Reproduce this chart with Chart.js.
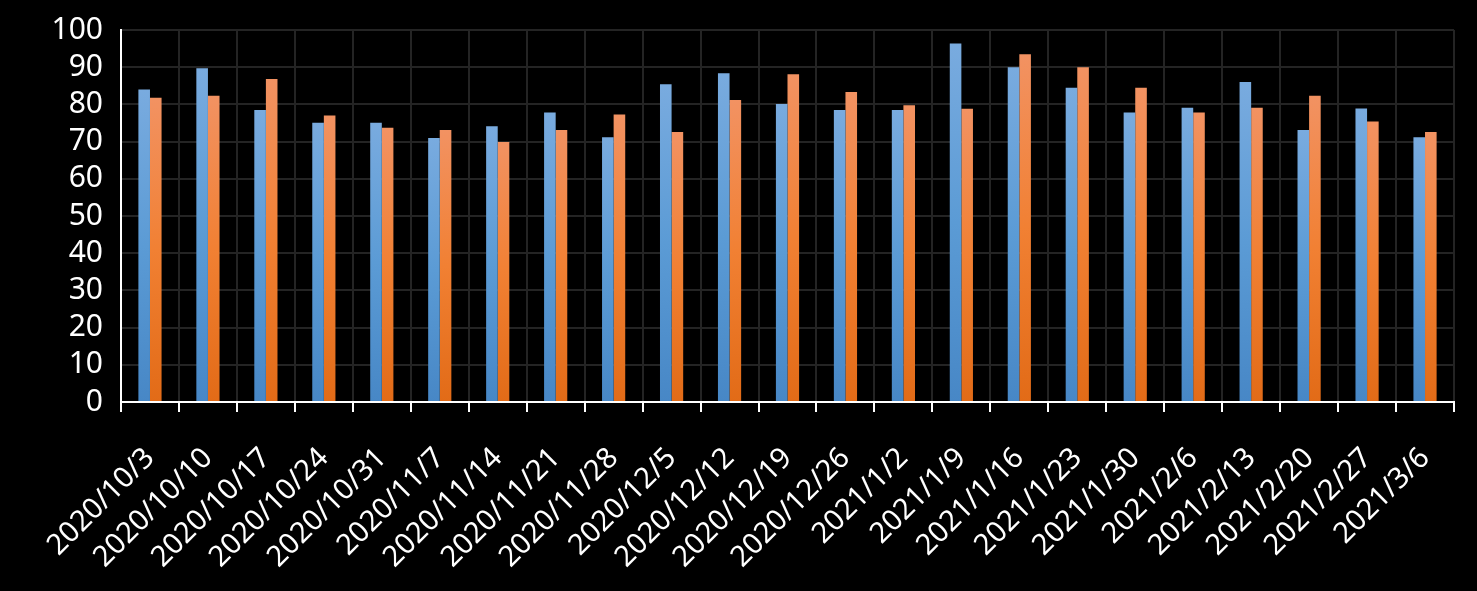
<!DOCTYPE html>
<html>
<head>
<meta charset="utf-8">
<script src="https://cdn.jsdelivr.net/npm/chart.js@4/dist/chart.umd.min.js"></script>
<style>
  html, body { margin: 0; padding: 0; background: #000; }
  #wrap { width: 1477px; height: 591px; }
</style>
</head>
<body>
<div id="wrap"><canvas id="chart" width="1477" height="591"></canvas></div>
<script>
const weeks = [
  '2020/10/3', '2020/10/10', '2020/10/17', '2020/10/24', '2020/10/31', '2020/11/7',
  '2020/11/14', '2020/11/21', '2020/11/28', '2020/12/5', '2020/12/12', '2020/12/19',
  '2020/12/26', '2021/1/2', '2021/1/9', '2021/1/16', '2021/1/23', '2021/1/30',
  '2021/2/6', '2021/2/13', '2021/2/20', '2021/2/27', '2021/3/6'
];
const blueValues = [
  84.0, 89.7, 78.5, 75.1, 75.1, 71.0, 74.1, 77.8, 71.2, 85.4, 88.4, 80.1,
  78.5, 78.5, 96.4, 90.0, 84.5, 77.8, 79.1, 86.0, 73.1, 78.9, 71.2
];
const orangeValues = [
  81.8, 82.3, 86.8, 77.0, 73.7, 73.1, 69.9, 73.1, 77.3, 72.6, 81.2, 88.1,
  83.3, 79.8, 78.8, 93.5, 90.0, 84.5, 77.8, 79.1, 82.3, 75.4, 72.6
];
const yTicks = [0, 10, 20, 30, 40, 50, 60, 70, 80, 90, 100];

// per-bar vertical gradient, light at the top, darker at the base
function barGradient(stops) {
  return (ctx) => {
    const chart = ctx.chart;
    if (!chart.chartArea || ctx.raw === undefined) return stops[1];
    const y = chart.scales.y;
    const top = y.getPixelForValue(ctx.raw);
    const bottom = y.getPixelForValue(0);
    const g = chart.ctx.createLinearGradient(0, top, 0, bottom);
    g.addColorStop(0, stops[0]);
    g.addColorStop(0.5, stops[1]);
    g.addColorStop(1, stops[2]);
    return g;
  };
}

const family = "'Noto Sans', 'DejaVu Sans', sans-serif";

new Chart(document.getElementById('chart'), {
  type: 'bar',
  data: {
    labels: weeks,
    datasets: [
      {
        label: 'A',
        data: blueValues,
        backgroundColor: barGradient(['#79abdf', '#5b9bd5', '#4787c6']),
        categoryPercentage: 0.4,
        barPercentage: 1.0,
      },
      {
        label: 'B',
        data: orangeValues,
        backgroundColor: barGradient(['#f29262', '#f18033', '#e26b17']),
        categoryPercentage: 0.4,
        barPercentage: 1.0,
      },
    ],
  },
  options: {
    responsive: false,
    animation: false,
    layout: { padding: { top: 30, right: 23, left: 0, bottom: 0 } },
    plugins: { legend: { display: false }, tooltip: { enabled: false } },
    scales: {
      x: {
        grid: { color: '#242424', lineWidth: 2, tickColor: '#ffffff', tickLength: 10, offset: true },
        border: { color: '#ffffff', width: 2 },
        ticks: { color: '#ffffff', font: { family, size: 29 }, minRotation: 45, maxRotation: 45, autoSkip: false, padding: 29 },
        afterFit: (scale) => {
          scale.height = 189;
          scale.paddingLeft = 0;
          scale.paddingRight = 0;
        },
      },
      y: {
        min: 0,
        max: 100,
        afterBuildTicks: (scale) => { scale.ticks = yTicks.map((v) => ({ value: v })); },
        grid: { color: '#242424', lineWidth: 2, drawTicks: false },
        border: { color: '#ffffff', width: 2 },
        ticks: { color: '#ffffff', font: { family, size: 30 }, padding: 18, autoSkip: false },
        afterFit: (scale) => {
          scale.width = 121;
          scale.paddingTop = 0;
          scale.paddingBottom = 0;
        },
      },
    },
  },
});
</script>
</body>
</html>
